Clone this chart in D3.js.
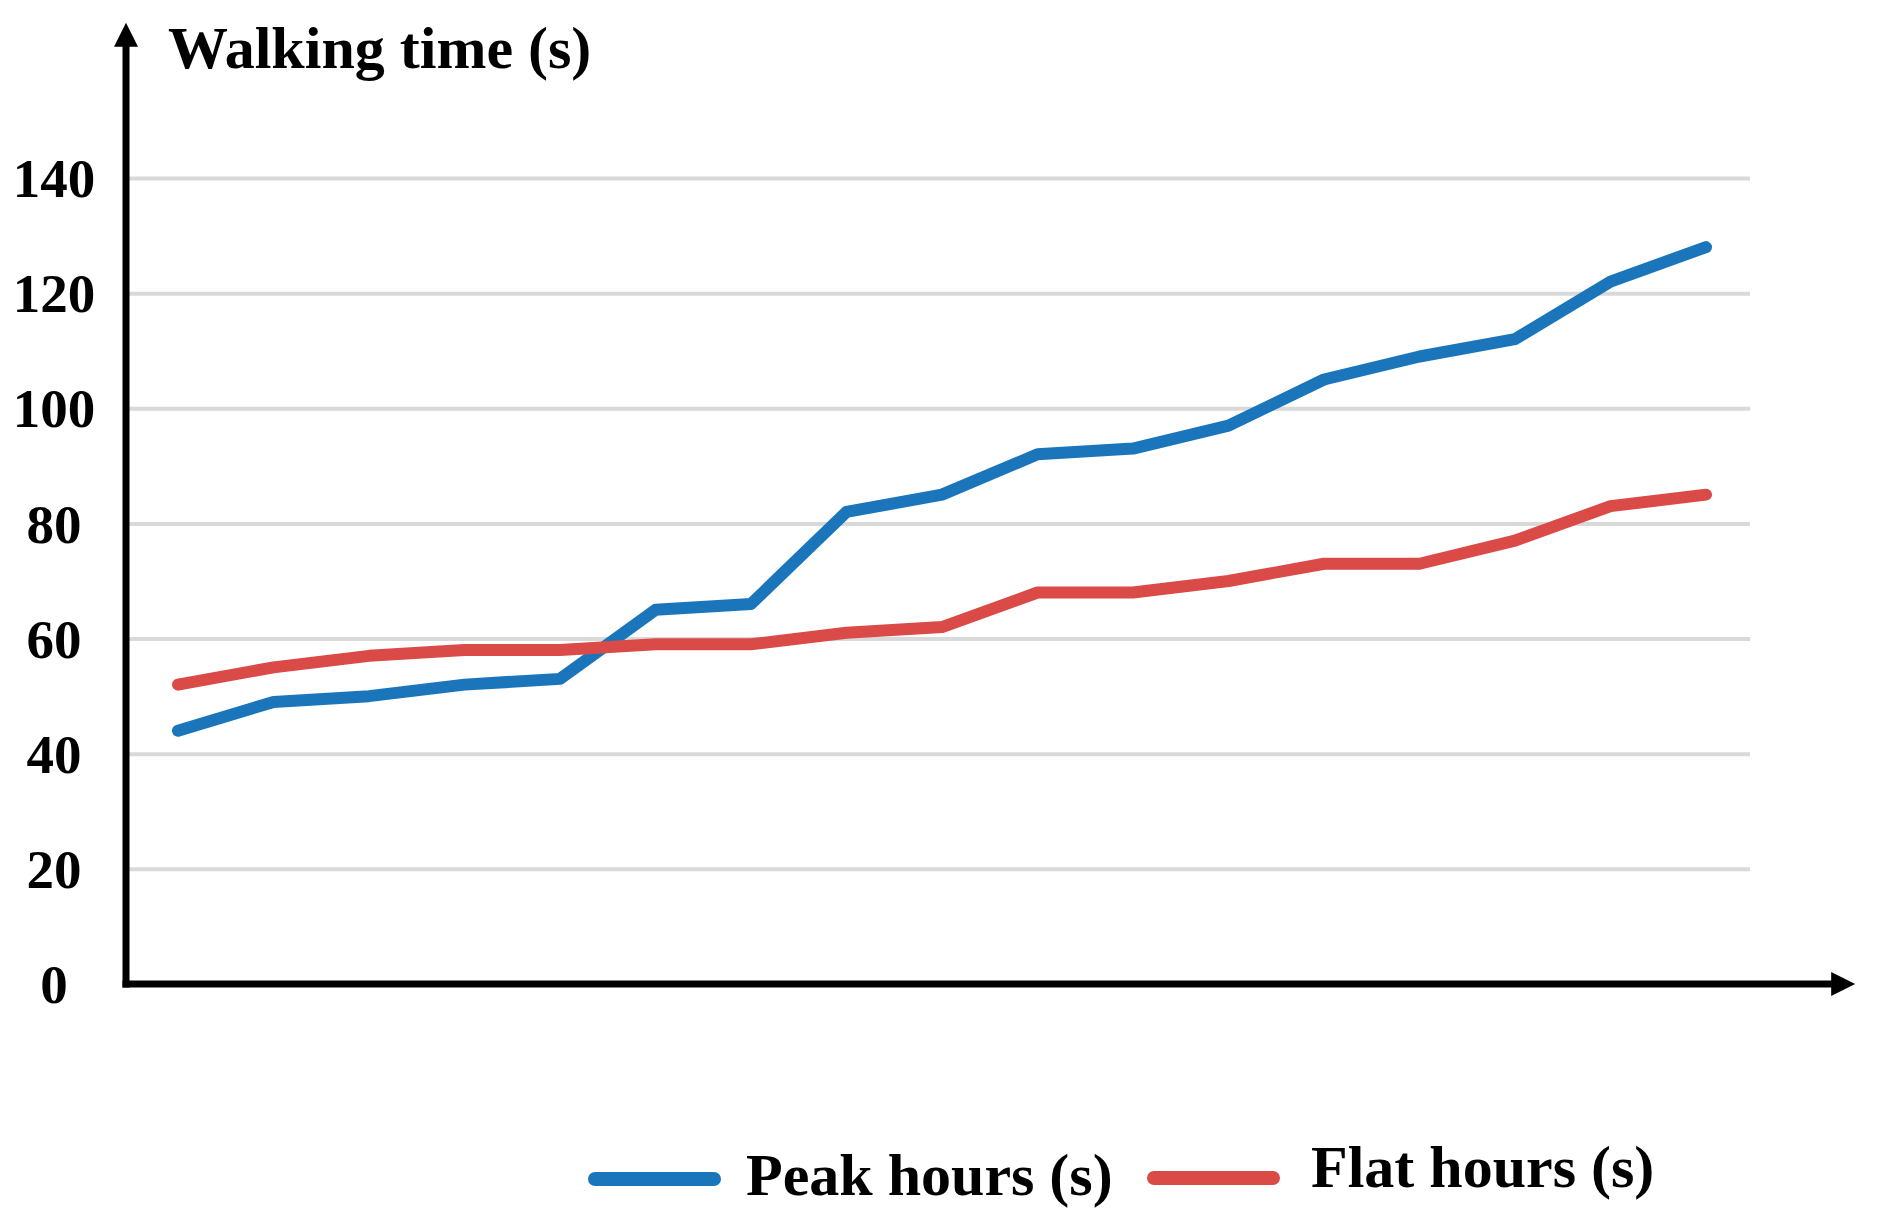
<!DOCTYPE html>
<html>
<head>
<meta charset="utf-8">
<script src="https://cdn.jsdelivr.net/npm/d3@7"></script>
<style>
  html, body { margin: 0; padding: 0; background: #ffffff; }
  svg { display: block; }
  text { font-family: "Liberation Serif", "Times New Roman", serif; font-weight: bold; fill: #000; }
</style>
</head>
<body>
<script>
// ---- data ----
const categories = [1, 2, 3, 4, 5, 6, 7, 8, 9, 10, 11, 12, 13, 14, 15, 16, 17];
const peakHours = [44, 49, 50, 52, 53, 65, 66, 82, 85, 92, 93, 97, 105, 109, 112, 122, 128];
const flatHours = [52, 55, 57, 58, 58, 59, 59, 61, 62, 68, 68, 70, 73, 73, 77, 83, 85];
const yTicks = [0, 20, 40, 60, 80, 100, 120, 140];
const yTitle = "Walking time (s)";
const seriesNames = ["Peak hours (s)", "Flat hours (s)"];
const seriesColors = ["#1b75bb", "#da4a47"];

// ---- layout ----
const W = 1886, H = 1222;
const axisX = 126, axisY = 984;
const svg = d3.select("body").append("svg").attr("width", W).attr("height", H);

const x = d3.scaleLinear().domain([1, 17]).range([178, 1706]);
const y = d3.scaleLinear().domain([0, 140]).range([984, 178]);

// arrow markers
const defs = svg.append("defs");
defs.append("marker")
  .attr("id", "arrow")
  .attr("viewBox", "0 0 10 10")
  .attr("refX", 2).attr("refY", 5)
  .attr("markerUnits", "userSpaceOnUse")
  .attr("markerWidth", 26).attr("markerHeight", 24)
  .attr("orient", "auto")
  .append("path").attr("d", "M0,0 L10,5 L0,10 z").attr("fill", "#000");

// gridlines
const grid = svg.append("g")
  .attr("transform", `translate(${axisX},0)`)
  .call(d3.axisRight(y).tickValues(yTicks.filter(d => d > 0)).tickSize(1750 - axisX).tickFormat(""));
grid.select(".domain").remove();
grid.selectAll(".tick line").attr("stroke", "#d9d9d9").attr("stroke-width", 4);

// y tick labels (centered in the left margin)
const yAxis = svg.append("g")
  .attr("transform", `translate(54,0)`)
  .call(d3.axisLeft(y).tickValues(yTicks).tickSize(0).tickPadding(0));
yAxis.select(".domain").remove();
yAxis.selectAll(".tick text")
  .attr("font-size", 55)
  .attr("font-family", "Liberation Serif, Times New Roman, serif")
  .attr("font-weight", "bold")
  .attr("fill", "#000")
  .attr("text-anchor", "middle")
  .attr("x", 0)
  .attr("dy", "0.34em");

// axes lines with arrows
svg.append("line")
  .attr("x1", axisX).attr("y1", axisY + 3.5)
  .attr("x2", axisX).attr("y2", 42)
  .attr("stroke", "#000").attr("stroke-width", 7)
  .attr("marker-end", "url(#arrow)");
svg.append("line")
  .attr("x1", axisX - 3.5).attr("y1", axisY)
  .attr("x2", 1836).attr("y2", axisY)
  .attr("stroke", "#000").attr("stroke-width", 7)
  .attr("marker-end", "url(#arrow)");

// y title
svg.append("text")
  .attr("x", 168).attr("y", 68)
  .attr("font-size", 60)
  .text(yTitle);

// lines
const line = d3.line().x((d, i) => x(categories[i])).y(d => y(d));
[peakHours, flatHours].forEach((s, k) => {
  svg.append("path")
    .datum(s)
    .attr("d", line)
    .attr("fill", "none")
    .attr("stroke", seriesColors[k])
    .attr("stroke-width", 12)
    .attr("stroke-linejoin", "round")
    .attr("stroke-linecap", "round");
});

// legend
const legendItems = [
  { x1: 595, x2: 714, ly: 1179, tx: 746, ty: 1195 },
  { x1: 1154, x2: 1273, ly: 1178, tx: 1311, ty: 1187 }
];
legendItems.forEach((L, k) => {
  svg.append("line")
    .attr("x1", L.x1).attr("x2", L.x2)
    .attr("y1", L.ly).attr("y2", L.ly)
    .attr("stroke", seriesColors[k]).attr("stroke-width", 14)
    .attr("stroke-linecap", "round");
  svg.append("text")
    .attr("x", L.tx).attr("y", L.ty)
    .attr("font-size", 60)
    .text(seriesNames[k]);
});
</script>
</body>
</html>
